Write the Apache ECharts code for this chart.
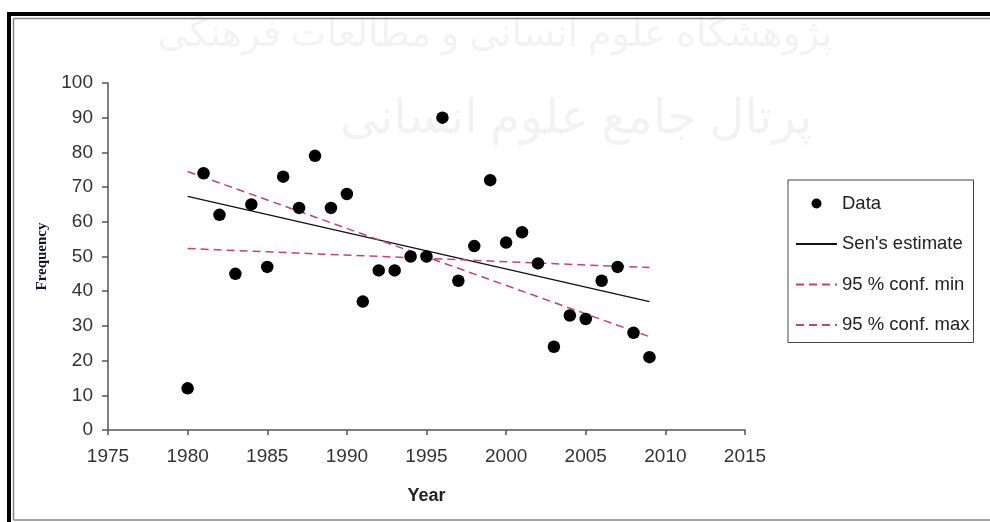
<!DOCTYPE html>
<html>
<head>
<meta charset="utf-8">
<script src="https://cdn.jsdelivr.net/npm/echarts@6/dist/echarts.min.js"></script>
<style>
html,body{margin:0;padding:0;background:#fff;}
#chart{width:990px;height:522px;}
</style>
</head>
<body>
<div id="chart"></div>
<script>
// ---- data ----
const years = [1980,1981,1982,1983,1984,1985,1986,1987,1988,1989,1990,1991,1992,1993,1994,1995,1996,1997,1998,1999,2000,2001,2002,2003,2004,2005,2006,2007,2008,2009];
const frequency = [12,74,62,45,65,47,73,64,79,64,68,37,46,46,50,50,90,43,53,72,54,57,48,24,33,32,43,47,28,21];
const trendYears = [1980, 2009];
const senEstimate = [67.3, 37.0];
const confMin = [74.5, 26.9];
const confMax = [52.3, 46.8];
const seriesNames = ['Data', "Sen's estimate", '95 % conf. min', '95 % conf. max'];
const xTicks = {min: 1975, max: 2015, step: 5};
const yTicks = {min: 0, max: 100, step: 10};

const pair = (xs, ys) => xs.map((x, i) => [x, ys[i]]);
const dashColor = '#c4446c';
const labelFont = {fontFamily: 'Liberation Sans, Arial, sans-serif', fontSize: 19, color: '#333'};

const chart = echarts.init(document.getElementById('chart'), null, {renderer: 'canvas'});
chart.setOption({
  backgroundColor: '#fff',
  animation: false,
  grid: {left: 108, right: 245, top: 83, bottom: 92, containLabel: false},
  xAxis: {
    type: 'value', min: xTicks.min, max: xTicks.max, interval: xTicks.step,
    name: 'Year', nameLocation: 'middle', nameGap: 57,
    nameTextStyle: {fontFamily: 'Liberation Sans, Arial, sans-serif', fontSize: 18, fontWeight: 'bold', color: '#222'},
    axisLine: {show: true, onZero: false, lineStyle: {color: '#555', width: 1.5}},
    axisTick: {show: true, inside: false, length: 5, lineStyle: {color: '#555', width: 1.5}},
    axisLabel: Object.assign({margin: 17, showMinLabel: true, showMaxLabel: true, formatter: v => String(v)}, labelFont),
    splitLine: {show: false}
  },
  yAxis: {
    type: 'value', min: yTicks.min, max: yTicks.max, interval: yTicks.step,
    name: 'Frequency', nameLocation: 'middle', nameGap: 58, nameRotate: 90,
    nameTextStyle: {fontFamily: 'Liberation Serif, Times New Roman, serif', fontSize: 15, fontWeight: 'bold', color: '#14142a'},
    axisLine: {show: true, onZero: false, lineStyle: {color: '#555', width: 1.5}},
    axisTick: {show: true, inside: false, length: 6, lineStyle: {color: '#555', width: 1.5}},
    axisLabel: Object.assign({margin: 15, showMinLabel: true, showMaxLabel: true, formatter: v => String(v)}, labelFont),
    splitLine: {show: false}
  },
  legend: {
    orient: 'vertical',
    left: 788, top: 180,
    padding: [14, 4, 8, 7],
    borderColor: '#444', borderWidth: 1,
    itemWidth: 41, itemHeight: 10, itemGap: 21.5,
    textStyle: {fontFamily: 'Liberation Sans, Arial, sans-serif', fontSize: 18.5, color: '#222'},
    data: [
      {name: seriesNames[0]},
      {name: seriesNames[1], itemStyle: {opacity: 0}},
      {name: seriesNames[2], itemStyle: {opacity: 0}},
      {name: seriesNames[3], itemStyle: {opacity: 0}}
    ]
  },
  graphic: [
    {type: 'text', left: 'center', top: 16, silent: true, z: -1,
     style: {text: 'پژوهشگاه علوم انسانی و مطالعات فرهنگی', font: '38px "Noto Sans", "DejaVu Sans", sans-serif', fill: 'rgba(0,0,0,0.05)'}},
    {type: 'text', left: 340, top: 95, silent: true, z: -1,
     style: {text: 'پرتال جامع علوم انسانی', font: '48px "Noto Sans", "DejaVu Sans", sans-serif', fill: 'rgba(0,0,0,0.05)'}},
    // frame
    {type: 'rect', shape: {x: 7, y: 12, width: 983, height: 4}, style: {fill: '#000'}, silent: true},
    {type: 'rect', shape: {x: 7, y: 12, width: 4, height: 510}, style: {fill: '#000'}, silent: true},
    {type: 'line', shape: {x1: 13.5, y1: 18.5, x2: 990, y2: 18.5}, style: {stroke: '#888', lineWidth: 1.5}, silent: true},
    {type: 'line', shape: {x1: 13.5, y1: 18.5, x2: 13.5, y2: 520}, style: {stroke: '#888', lineWidth: 1.5}, silent: true},
    {type: 'line', shape: {x1: 13.5, y1: 520, x2: 990, y2: 520}, style: {stroke: '#888', lineWidth: 1.5}, silent: true}
  ],
  series: [
    {name: seriesNames[0], type: 'scatter', data: pair(years, frequency), symbol: 'circle', symbolSize: 12.5,
     itemStyle: {color: '#000', opacity: 1}, z: 5},
    {name: seriesNames[1], type: 'line', data: pair(trendYears, senEstimate), symbol: 'none',
     lineStyle: {color: '#111', width: 1.3, type: 'solid'}, itemStyle: {color: '#111'}},
    {name: seriesNames[2], type: 'line', data: pair(trendYears, confMin), symbol: 'none',
     lineStyle: {color: dashColor, width: 1.5, type: [8, 5]}, itemStyle: {color: dashColor}},
    {name: seriesNames[3], type: 'line', data: pair(trendYears, confMax), symbol: 'none',
     lineStyle: {color: dashColor, width: 1.5, type: [8, 5]}, itemStyle: {color: dashColor}}
  ]
});
</script>
</body>
</html>
